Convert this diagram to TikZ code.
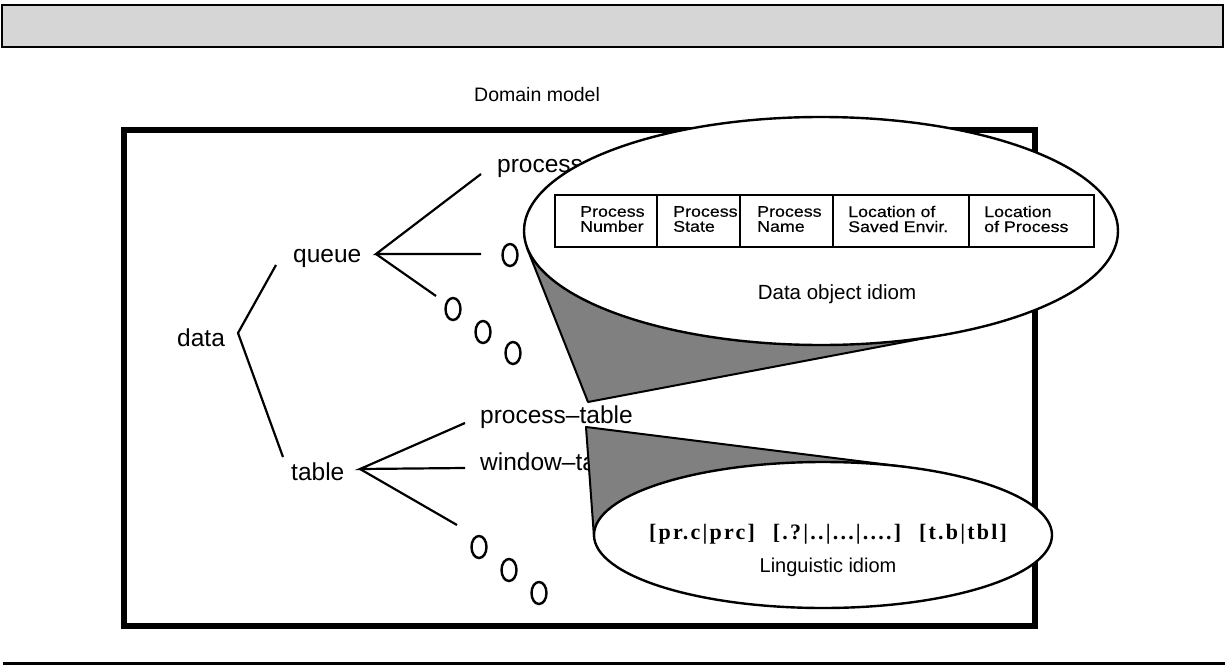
\documentclass[tikz,border=0pt]{standalone}
\usepackage{fontspec}
\setmainfont{Liberation Sans}
\newfontfamily\cellfont[FakeStretch=1.15,FakeBold=0.4]{Liberation Sans}
\newfontfamily\idiomfont[LetterSpace=10]{Liberation Serif}
\usetikzlibrary{shapes.geometric}
\begin{document}
\begin{tikzpicture}[x=1pt,y=-1pt,
  treelabel/.style={font=\fontsize{24.5}{29}\selectfont, inner sep=0pt, anchor=west},
  branch/.style={line width=2.2pt},
  etc/.style={draw, ellipse, line width=2.4pt, minimum width=15pt, minimum height=22pt, inner sep=0pt},
  bubble/.style={draw, ellipse, fill=white, line width=2.4pt, inner sep=0pt},
  wedge/.style={fill=black!50},
  wedgeedge/.style={line width=2pt, line join=round},
  cell/.style={draw, line width=2pt, minimum height=52pt, inner sep=0pt, anchor=north west},
  celltext/.style={font=\cellfont\fontsize{15.5}{15}\selectfont, align=left, inner sep=0pt, anchor=west},
  caption/.style={font=\fontsize{20.5}{24}\selectfont, inner sep=0pt}]
\useasboundingbox (0,0) rectangle (1225,666);

% header band and foot rule
\draw[line width=1.5pt, fill=black!16] (2,5) rectangle (1223,47);
\draw[line width=3pt] (3,663) -- (1225,663);

% frame of the domain model
\node[inner sep=0pt, anchor=west, font=\fontsize{19.5}{23}\selectfont] (title) at (474,95) {Domain model};
\draw[line width=6pt] (124,130) rectangle (1035,626);

% classification tree
\node[treelabel] (data)  at (177,338) {data};
\node[treelabel] (queue) at (293,258) {queue};
\node[treelabel] (table) at (291,472) {table};
\node[treelabel] (pq)    at (497,168) {process};
\node[treelabel] (pt)    at (480,417) {process–table};
\node[treelabel] (wt)    at (480,462) {window–table};

\coordinate (dJ) at (238,333);
\coordinate (qJ) at (376,254);
\coordinate (tJ) at (360,469);
\coordinate (qA) at (481,174);
\coordinate (qB) at (481,254);
\coordinate (qC) at (436,296);
\coordinate (tA) at (465,423);
\coordinate (tB) at (465,468);
\coordinate (tC) at (457,525);

\draw[branch] (276,265) coordinate (dA) -- (dJ) -- (283,457) coordinate (dB);
\draw[branch] (qA) -- (qJ) -- (qB);
\draw[branch] (qJ) -- (qC);
\draw[branch] (tA) -- (tJ) -- (tB);
\draw[branch] (tJ) -- (tC);

% elided siblings
\node[etc] (q0) at (510,255) {};
\node[etc] (q1) at (453,309) {};
\node[etc] (q2) at (483,332) {};
\node[etc] (q3) at (513,353) {};
\node[etc] (t1) at (479,547) {};
\node[etc] (t2) at (509,570) {};
\node[etc] (t3) at (539,593) {};

% callout wedges (tangent lines from the apex to each bubble)
\coordinate (ua) at (588,402);
\coordinate (u1) at (527,248);
\coordinate (u2) at (952,333);
\coordinate (la) at (586,427);
\coordinate (l1) at (594,537);
\coordinate (l2) at (906,467);
\fill[wedge] (ua) -- (u1) -- (u2) -- cycle;
\draw[wedgeedge] (u1) -- (ua) -- (u2);
\fill[wedge] (la) -- (l1) -- (l2) -- cycle;
\draw[wedgeedge] (l1) -- (la) -- (l2);

% data object idiom bubble
\node[bubble, minimum width=594pt, minimum height=228pt] (dobj) at (821,231) {};
\node[cell, minimum width=102pt] (c1) at (554,194) {};
\node[cell, minimum width=83pt]  (c2) at (656,194) {};
\node[cell, minimum width=93pt]  (c3) at (739,194) {};
\node[cell, minimum width=136pt] (c4) at (832,194) {};
\node[cell, minimum width=125pt] (c5) at (968,194) {};
\node[celltext] at (580,219) {Process\\Number};
\node[celltext] at (673,219) {Process\\State};
\node[celltext] at (757,219) {Process\\Name};
\node[celltext] at (848,219) {Location of\\Saved Envir.};
\node[celltext] at (984,219) {Location\\of Process};
\node[caption] (dcap) at (837,294) {Data object idiom};

% linguistic idiom bubble
\node[bubble, minimum width=458pt, minimum height=146pt] (ling) at (823,535) {};
\node[inner sep=0pt, font=\idiomfont\bfseries\fontsize{22}{25}\selectfont] (lrx) at (828,534)
  {[pr.c|prc]\hspace{18pt}[.?|..|...|....]\hspace{18pt}[t.b|tbl]};
\node[caption, font=\fontsize{20}{24}\selectfont] (lcap) at (828,567) {Linguistic idiom};
\end{tikzpicture}
\end{document}
